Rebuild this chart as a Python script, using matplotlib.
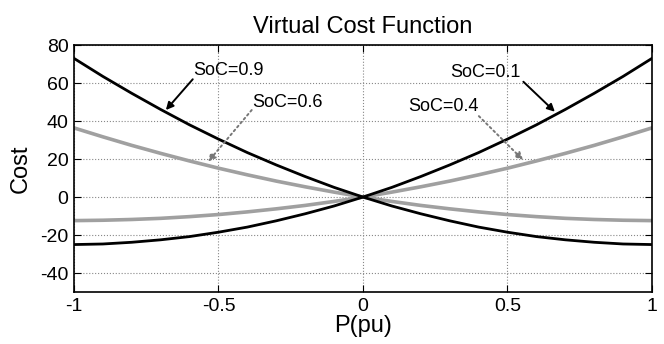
import matplotlib
matplotlib.use("Agg")
import matplotlib.pyplot as plt

plt.rcParams["font.family"] = ["Liberation Sans", "DejaVu Sans"]
plt.rcParams["axes.unicode_minus"] = False

# Data
p = [-1.0, -0.9, -0.8, -0.7, -0.6, -0.5, -0.4, -0.3, -0.2, -0.1, 0.0,
     0.1, 0.2, 0.3, 0.4, 0.5, 0.6, 0.7, 0.8, 0.9, 1.0]
cost_soc01 = [-25.0, -24.7, -23.8, -22.5, -20.8, -18.5, -15.8, -12.5, -8.8, -4.7, 0.0,
              5.1, 10.8, 16.9, 23.4, 30.5, 38.0, 46.1, 54.6, 63.5, 73.0]
cost_soc04 = [-12.4, -12.2, -11.8, -11.2, -10.3, -9.2, -7.8, -6.2, -4.4, -2.3, 0.0,
              2.6, 5.4, 8.4, 11.7, 15.2, 19.0, 23.0, 27.2, 31.7, 36.4]
cost_soc06 = [36.4, 31.7, 27.2, 23.0, 19.0, 15.2, 11.7, 8.4, 5.4, 2.6, 0.0,
              -2.3, -4.4, -6.2, -7.8, -9.2, -10.3, -11.2, -11.8, -12.2, -12.4]
cost_soc09 = [73.0, 63.5, 54.6, 46.1, 38.0, 30.5, 23.4, 16.9, 10.8, 5.1, 0.0,
              -4.7, -8.8, -12.5, -15.8, -18.5, -20.8, -22.5, -23.8, -24.7, -25.0]

xticks = [-1, -0.5, 0, 0.5, 1]
xticklabels = ["-1", "-0.5", "0", "0.5", "1"]
yticks = [-40, -20, 0, 20, 40, 60, 80]

fig = plt.figure(figsize=(6.64, 3.44), dpi=100)
ax = fig.add_axes([0.1114, 0.151, 0.8705, 0.718])

gray = "#a0a0a0"
ax.plot(p, cost_soc04, color=gray, lw=2.6)
ax.plot(p, cost_soc06, color=gray, lw=2.6)
ax.plot(p, cost_soc01, color="black", lw=2.0)
ax.plot(p, cost_soc09, color="black", lw=2.0)

ax.set_xlim(-1, 1)
ax.set_ylim(-50, 80)
ax.set_xticks(xticks)
ax.set_xticklabels(xticklabels)
ax.set_yticks(yticks)
ax.grid(True, color="#888888", linestyle=":", linewidth=0.8)
ax.tick_params(direction="in", labelsize=14, length=5, top=True, right=True,
               labeltop=False, labelright=False, pad=4)
for s in ax.spines.values():
    s.set_linewidth(1.2)

ax.set_title("Virtual Cost Function", fontsize=17, pad=9)
ax.set_xlabel("P(pu)", fontsize=17, labelpad=0)
ax.set_ylabel("Cost", fontsize=17, labelpad=6)

# Annotations: label text, then arrow from start to tip
labels = [("SoC=0.9", -0.588, 66.8), ("SoC=0.6", -0.384, 49.6),
          ("SoC=0.1", 0.301, 65.4), ("SoC=0.4", 0.156, 47.9)]
arrows = [((-0.589, 62.0), (-0.682, 45.8), "black", "-"),
          ((-0.385, 45.8), (-0.536, 18.6), "#777777", ":"),
          ((0.555, 60.7), (0.664, 44.9), "black", "-"),
          ((0.401, 42.6), (0.554, 19.5), "#777777", ":")]
for txt, tx, ty in labels:
    ax.text(tx, ty, txt, fontsize=13, ha="left", va="center")
for start, tip, col, ls in arrows:
    ax.annotate("", xy=tip, xytext=start,
                arrowprops=dict(arrowstyle="-|>", color=col, lw=1.4, ls=ls,
                                shrinkA=0, shrinkB=0, mutation_scale=11))

fig.savefig("out.png", dpi=100)
